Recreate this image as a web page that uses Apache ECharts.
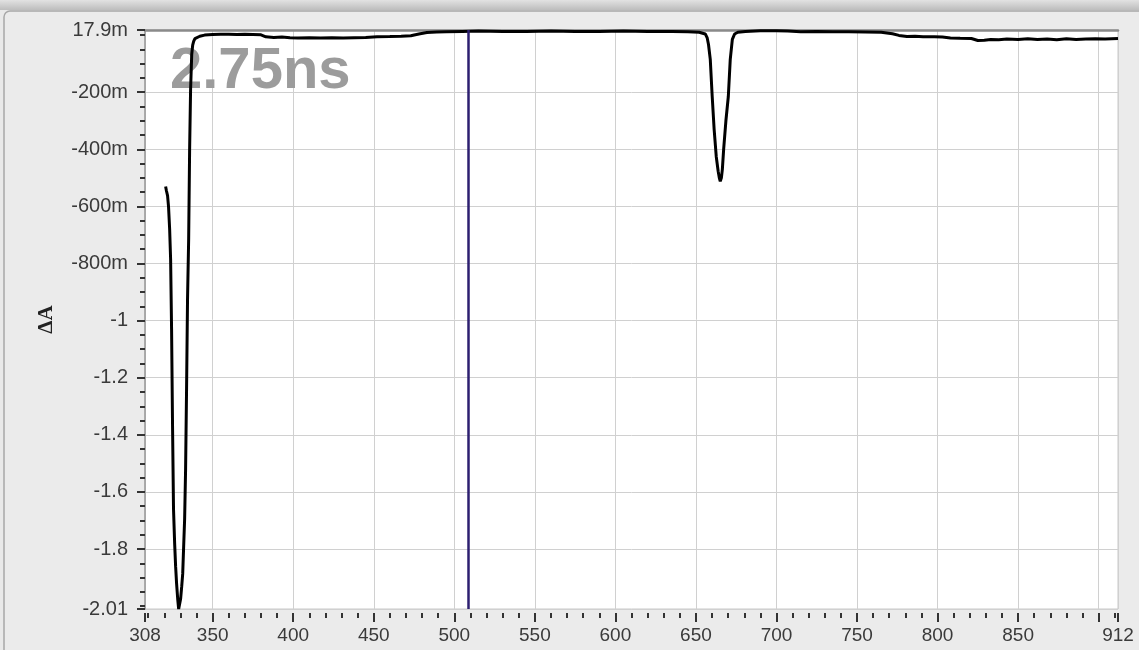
<!DOCTYPE html>
<html>
<head>
<meta charset="utf-8">
<script src="https://cdn.jsdelivr.net/npm/echarts@6/dist/echarts.min.js"></script>
<style>html,body{margin:0;padding:0;background:#e9e9e9;}#c{width:1139px;height:650px;}</style>
</head>
<body>
<div id="c"></div>
<script>
// wavelength (nm) and ΔA values
const wavelength = [
  320.8, 321.3, 321.7, 322.0, 322.6, 323.3, 323.9, 324.5, 325.1, 325.7, 326.4, 327.0, 327.6, 328.3, 328.9, 329.5,
  330.1, 330.8, 331.4, 332.0, 332.6, 333.2, 333.8, 334.4, 335.1, 335.7, 336.3, 337.0, 337.6, 338.2, 339.0, 340.1,
  342, 345, 350, 355, 360, 365, 370, 375, 380, 383, 388, 393, 398, 403, 410, 417, 424, 431, 438, 445, 452, 460,
  467, 473, 478, 483, 489, 495, 505, 515, 530, 545, 560, 575, 590, 605, 620, 635, 645, 652,
  655.8, 657.0, 657.8, 658.9, 660.1, 661.3, 662.6, 663.8, 664.5, 665.1, 665.8, 666.4, 667.2, 668.6, 670.1, 671.3,
  672.6, 674.0, 676, 680.7, 690, 700, 707, 715, 725, 735, 745, 755, 765, 772, 776, 781, 786, 791, 798, 803, 808,
  814, 821, 825, 829, 833, 838, 843, 850, 856, 862, 868, 874, 880, 886, 892, 898, 904, 912
];
const deltaA = [
  -0.530, -0.545, -0.538, -0.562, -0.600, -0.680, -0.785, -1.030, -1.370, -1.660, -1.780, -1.860, -1.920, -1.975, -2.010, -2.012,
  -1.975, -1.930, -1.887, -1.790, -1.695, -1.520, -1.240, -0.925, -0.715, -0.400, -0.190, -0.068, -0.035, -0.022, -0.012, -0.008,
  -0.004, 0.000, 0.002, 0.003, 0.003, 0.002, 0.003, 0.002, 0.001, -0.006, -0.008, -0.007, -0.009, -0.010, -0.009, -0.010, -0.009, -0.010, -0.009, -0.008, -0.006, -0.005,
  -0.004, -0.002, 0.004, 0.009, 0.011, 0.012, 0.013, 0.014, 0.013, 0.013, 0.014, 0.013, 0.013, 0.014, 0.013, 0.013, 0.012, 0.010,
  0.004, -0.010, -0.033, -0.085, -0.215, -0.330, -0.425, -0.477, -0.500, -0.512, -0.500, -0.470, -0.400, -0.300, -0.215, -0.085,
  -0.015, 0.004, 0.010, 0.013, 0.015, 0.015, 0.014, 0.012, 0.013, 0.012, 0.012, 0.011, 0.010, 0.005, -0.001, -0.005, -0.004, -0.006, -0.006, -0.007, -0.010,
  -0.011, -0.012, -0.019, -0.018, -0.015, -0.016, -0.014, -0.015, -0.013, -0.015, -0.014, -0.016, -0.013, -0.015, -0.014, -0.013, -0.014, -0.012
];
const xMin = 308, xMax = 912;
const yMin = -2.01, yMax = 0.0179;
const xLabelValues = [308, 350, 400, 450, 500, 550, 600, 650, 700, 750, 800, 850, 912];
const xMajorTicks = [308, 350, 400, 450, 500, 550, 600, 650, 700, 750, 800, 850, 900, 912];
const yMajorValues = [0.0179, -0.2, -0.4, -0.6, -0.8, -1, -1.2, -1.4, -1.6, -1.8, -2.01];
const cursorX = 508.8;
const delayLabel = '2.75ns';
const yName = 'ΔA';

const xMinorTicks = [];
for (let v = 310; v <= 910; v += 10) if (v % 50 !== 0) xMinorTicks.push(v);
const yMinorTicks = [];
for (let i = 0; i <= 40; i++) { const v = -i * 0.05; if (i % 4 !== 0 || i === 0 || i === 40) yMinorTicks.push(Math.round(v * 100) / 100); }

const data = wavelength.map((x, i) => [x, deltaA[i]]);
const fmtY = v => Math.abs(v) < 1 ? (Math.round(v * 10000) / 10) + 'm' : String(v);
const font = 'Liberation Sans';

const chart = echarts.init(document.getElementById('c'));
chart.setOption({
  backgroundColor: '#e9e9e9',
  animation: false,
  graphic: [
    { type: 'rect', z: -10, shape: { x: 0, y: 0, width: 1139, height: 10 },
      style: { fill: new echarts.graphic.LinearGradient(0, 0, 0, 1, [{ offset: 0, color: '#e2e2e2' }, { offset: 1, color: '#bdbdbd' }]) } },
    { type: 'rect', z: -9, shape: { x: 4, y: 11, width: 1150, height: 660, r: 6 },
      style: { fill: '#ebebeb', stroke: '#a8a8a8', lineWidth: 1.5 } },
    { type: 'text', z: 1, left: 170, top: 43,
      style: { text: delayLabel, font: 'bold 58px "Liberation Sans"', fill: '#9c9c9c' } }
  ],
  grid: { left: 145, right: 21, top: 30, bottom: 41, show: true, backgroundColor: '#ffffff', borderColor: '#c8c8c8', borderWidth: 1 },
  xAxis: [
    { type: 'value', min: xMin, max: xMax, position: 'bottom', offset: 4,
      axisLine: { show: false, onZero: false },
      axisTick: { show: true, customValues: xMajorTicks, length: 9, lineStyle: { color: '#333', width: 2 } },
      axisLabel: { customValues: xLabelValues, margin: 13, fontFamily: font, fontSize: 19, color: '#3a3a3a' },
      splitLine: { show: true, lineStyle: { color: '#d0d0d0', width: 1 } } },
    { type: 'value', min: xMin, max: xMax, position: 'bottom', offset: 4,
      axisLine: { show: false, onZero: false },
      axisTick: { show: true, customValues: xMinorTicks, length: 5, lineStyle: { color: '#333', width: 2 } },
      axisLabel: { show: false }, splitLine: { show: false } },
    { type: 'value', min: xMin, max: xMax, position: 'top',
      axisLine: { show: true, onZero: false, lineStyle: { color: '#8a8a8a', width: 2.5 } },
      axisTick: { show: false }, axisLabel: { show: false }, splitLine: { show: false } }
  ],
  yAxis: [
    { type: 'value', min: yMin, max: yMax, position: 'left',
      name: yName, nameLocation: 'middle', nameRotate: 90, nameGap: 88,
      nameTextStyle: { fontFamily: 'Liberation Serif', fontWeight: 'bold', fontSize: 21, color: '#222' },
      axisLine: { show: true, onZero: false, lineStyle: { color: '#9a9a9a', width: 1.5 } },
      axisTick: { show: true, customValues: yMajorValues, length: 8, lineStyle: { color: '#333', width: 2 } },
      axisLabel: { customValues: yMajorValues, margin: 17, fontFamily: font, fontSize: 20, color: '#3a3a3a', formatter: fmtY },
      splitLine: { show: true, lineStyle: { color: '#d0d0d0', width: 1 } } },
    { type: 'value', min: yMin, max: yMax, position: 'left',
      axisLine: { show: false, onZero: false },
      axisTick: { show: true, customValues: yMinorTicks, length: 5, lineStyle: { color: '#333', width: 2 } },
      axisLabel: { show: false }, splitLine: { show: false } }
  ],
  series: [{
    type: 'line', xAxisIndex: 0, yAxisIndex: 0, data: data, showSymbol: false, symbol: 'none',
    lineStyle: { color: '#000', width: 3 }, z: 3,
    markLine: { silent: true, symbol: 'none', label: { show: false },
      lineStyle: { color: '#2d1f70', width: 2.5, type: 'solid' },
      data: [{ xAxis: cursorX }] }
  }]
});
</script>
</body>
</html>
